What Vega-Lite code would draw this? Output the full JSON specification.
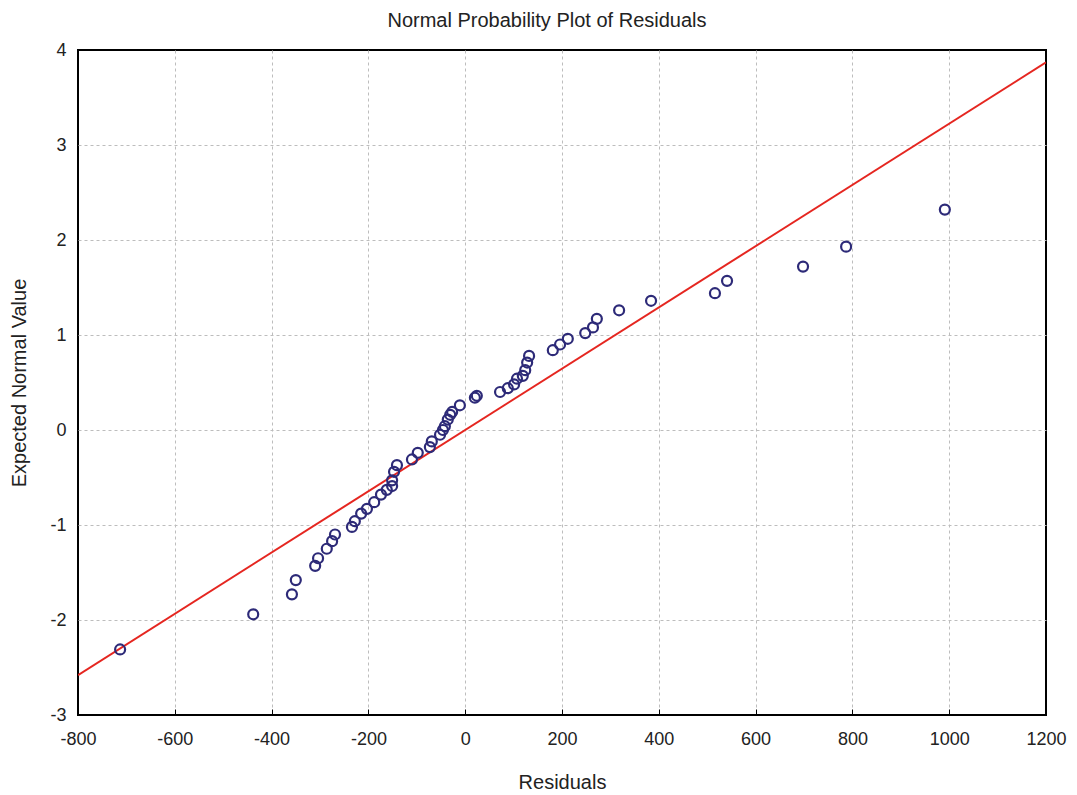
{
  "$schema": "https://vega.github.io/schema/vega-lite/v6.json",
  "width": 968,
  "height": 665,
  "autosize": {"type": "none"},
  "padding": {"left": 78, "top": 50, "right": 31, "bottom": 80},
  "background": "white",
  "title": {"text": "Normal Probability Plot of Residuals", "font": "Liberation Sans", "fontSize": 20, "fontWeight": "normal", "color": "#222", "offset": 10, "dx": -15},
  "config": {
    "view": {"stroke": "black", "strokeWidth": 2},
    "axis": {"labelFont": "Liberation Sans", "titleFont": "Liberation Sans", "labelFontSize": 18, "titleFontSize": 20, "titleFontWeight": "normal", "labelColor": "#222", "titleColor": "#222", "grid": true, "gridColor": "#bdbdbd", "gridDash": [3, 3], "gridWidth": 1, "domain": false, "tickColor": "black", "labelFlush": false}
  },
  "datasets": {
    "pts": [
      {"residual": -713, "expected": -2.31},
      {"residual": -438, "expected": -1.94},
      {"residual": -358, "expected": -1.73},
      {"residual": -350, "expected": -1.58},
      {"residual": -310, "expected": -1.43},
      {"residual": -304, "expected": -1.35},
      {"residual": -286, "expected": -1.25},
      {"residual": -275, "expected": -1.17},
      {"residual": -269, "expected": -1.10},
      {"residual": -234, "expected": -1.02},
      {"residual": -228, "expected": -0.96},
      {"residual": -215, "expected": -0.88},
      {"residual": -203, "expected": -0.83},
      {"residual": -188, "expected": -0.76},
      {"residual": -174, "expected": -0.68},
      {"residual": -162, "expected": -0.63},
      {"residual": -151, "expected": -0.59},
      {"residual": -151, "expected": -0.53},
      {"residual": -147, "expected": -0.44},
      {"residual": -141, "expected": -0.37},
      {"residual": -110, "expected": -0.31},
      {"residual": -98, "expected": -0.24},
      {"residual": -73, "expected": -0.18},
      {"residual": -69, "expected": -0.12},
      {"residual": -52, "expected": -0.05},
      {"residual": -46, "expected": 0.0},
      {"residual": -42, "expected": 0.04},
      {"residual": -36, "expected": 0.11},
      {"residual": -31, "expected": 0.16},
      {"residual": -27, "expected": 0.19},
      {"residual": -11, "expected": 0.26},
      {"residual": 20, "expected": 0.34},
      {"residual": 24, "expected": 0.36},
      {"residual": 72, "expected": 0.40},
      {"residual": 88, "expected": 0.44},
      {"residual": 101, "expected": 0.48},
      {"residual": 107, "expected": 0.54},
      {"residual": 119, "expected": 0.57},
      {"residual": 124, "expected": 0.63},
      {"residual": 128, "expected": 0.71},
      {"residual": 132, "expected": 0.78},
      {"residual": 181, "expected": 0.84},
      {"residual": 196, "expected": 0.90},
      {"residual": 212, "expected": 0.96},
      {"residual": 248, "expected": 1.02},
      {"residual": 264, "expected": 1.08},
      {"residual": 272, "expected": 1.17},
      {"residual": 318, "expected": 1.26},
      {"residual": 384, "expected": 1.36},
      {"residual": 516, "expected": 1.44},
      {"residual": 541, "expected": 1.57},
      {"residual": 698, "expected": 1.72},
      {"residual": 787, "expected": 1.93},
      {"residual": 991, "expected": 2.32}
    ],
    "fit": [
      {"residual": -800, "expected": -2.58},
      {"residual": 1200, "expected": 3.87}
    ]
  },
  "layer": [
    {
      "data": {"name": "fit"},
      "mark": {"type": "line", "color": "#e52620", "strokeWidth": 2, "clip": true},
      "encoding": {
        "x": {"field": "residual", "type": "quantitative", "scale": {"domain": [-800, 1200], "nice": false, "zero": false},
              "axis": {"title": "Residuals", "values": [-800, -600, -400, -200, 0, 200, 400, 600, 800, 1000, 1200], "labelExpr": "'' + datum.value", "tickSize": -6, "tickWidth": 1, "labelPadding": 21, "titlePadding": 24,
                       "gridOpacity": {"condition": {"test": "datum.value == -800 || datum.value == 1200", "value": 0}, "value": 1}}},
        "y": {"field": "expected", "type": "quantitative", "scale": {"domain": [-3, 4], "nice": false, "zero": false},
              "axis": {"title": "Expected Normal Value", "values": [-3, -2, -1, 0, 1, 2, 3, 4], "labelExpr": "'' + datum.value", "ticks": false, "labelPadding": 12, "titlePadding": 20,
                       "gridOpacity": {"condition": {"test": "datum.value == -3 || datum.value == 4", "value": 0}, "value": 1}}}
      }
    },
    {
      "data": {"name": "pts"},
      "mark": {"type": "point", "shape": "circle", "filled": false, "stroke": "#2d2a78", "strokeWidth": 2.2, "size": 100, "opacity": 1},
      "encoding": {
        "x": {"field": "residual", "type": "quantitative"},
        "y": {"field": "expected", "type": "quantitative"}
      }
    }
  ]
}
